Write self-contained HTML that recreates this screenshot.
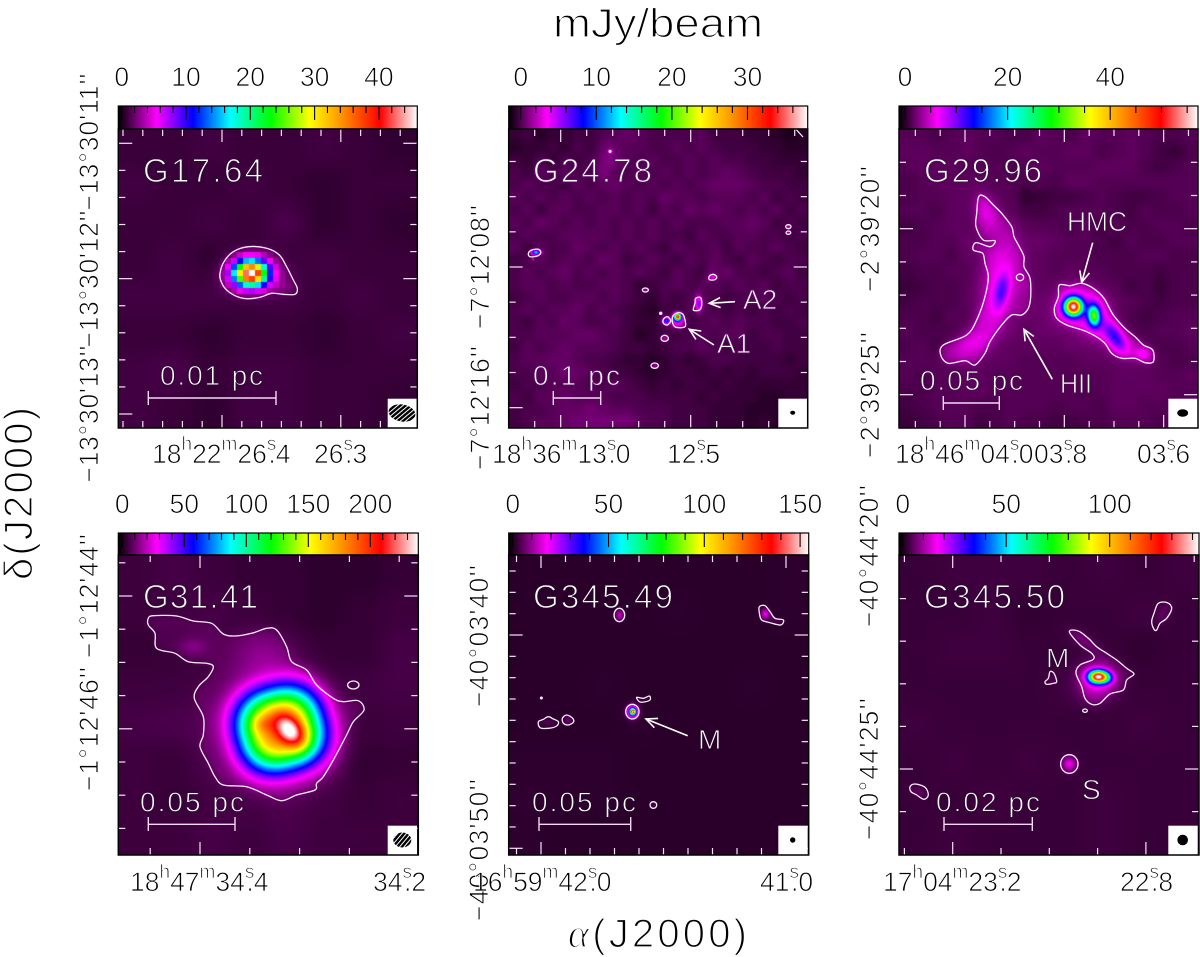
<!DOCTYPE html>
<html lang="en">
<head>
<meta charset="utf-8">
<title>Continuum maps</title>
<style>
html,body{margin:0;padding:0;background:#fff}
#root{position:relative;width:1200px;height:957px;overflow:hidden;background:#fff}
canvas{position:absolute;display:block}
svg#overlay{position:absolute;left:0;top:0}
text{font-family:"Liberation Sans",sans-serif}
.ax{fill:#000;stroke:#fff;stroke-width:.8px;font-size:26.5px}
.sup{font-size:19px}
.lab{fill:#fff;font-size:33px;stroke-width:1.1px}
.ann{fill:#fff;font-size:28px;stroke-width:.9px}
.dark1{stroke:#2c0832}.dark2{stroke:#5a0c62}.dark3{stroke:#470b4d}.dark4{stroke:#35083c}.dark5{stroke:#25062a}.dark6{stroke:#2e0734}
.bar{stroke:#f3d9f3;stroke-width:1.4;fill:none}
.arrow{stroke:#fff;stroke-width:1.6;fill:none;marker-end:url(#arrowhead)}
</style>
</head>
<body>
<div id="root">
<svg id="overlay" width="1200" height="957" viewBox="0 0 1200 957" xmlns="http://www.w3.org/2000/svg">
<defs>
<marker id="arrowhead" markerUnits="userSpaceOnUse" markerWidth="14" markerHeight="12" refX="12" refY="6" orient="auto"><path d="M1 1 L12 6 L1 11" fill="none" stroke="#fff" stroke-width="1.6"/></marker>
<pattern id="hatch" patternUnits="userSpaceOnUse" width="3.4" height="3.4" patternTransform="rotate(40)"><rect width="3.4" height="3.4" fill="#000"/><rect width="1" height="3.4" fill="#fff"/></pattern>
</defs>
<g id="colorbars"></g>
<g id="marks"></g>

<text x="553" y="37" class="ax" style="font-size:41px;stroke-width:1.3px" textLength="210" lengthAdjust="spacingAndGlyphs">mJy/beam</text>
<text x="568" y="947" class="ax" style="font-size:40px;stroke-width:1.3px" textLength="179"><tspan font-family="Liberation Serif" font-style="italic">α</tspan>(J2000)</text>
<text transform="translate(32,580) rotate(-90)" class="ax" style="font-size:40px;stroke-width:1.3px" textLength="173">δ(J2000)</text>

<!-- declination labels -->
<g>
<text transform="translate(98,142) rotate(-90)" text-anchor="middle" class="ax" textLength="137">−13°30'11''</text>
<text transform="translate(98,279) rotate(-90)" text-anchor="middle" class="ax" textLength="137">−13°30'12''</text>
<text transform="translate(98,414) rotate(-90)" text-anchor="middle" class="ax" textLength="137">−13°30'13''</text>
<text transform="translate(489,267) rotate(-90)" text-anchor="middle" class="ax" textLength="124">−7°12'08''</text>
<text transform="translate(489,408) rotate(-90)" text-anchor="middle" class="ax" textLength="124">−7°12'16''</text>
<text transform="translate(879,229) rotate(-90)" text-anchor="middle" class="ax" textLength="126">−2°39'20''</text>
<text transform="translate(879,395) rotate(-90)" text-anchor="middle" class="ax" textLength="126">−2°39'25''</text>
<text transform="translate(98,596) rotate(-90)" text-anchor="middle" class="ax" textLength="124">−1°12'44''</text>
<text transform="translate(98,729) rotate(-90)" text-anchor="middle" class="ax" textLength="124">−1°12'46''</text>
<text transform="translate(488,636) rotate(-90)" text-anchor="middle" class="ax" textLength="142">−40°03'40''</text>
<text transform="translate(488,850) rotate(-90)" text-anchor="middle" class="ax" textLength="142">−40°03'50''</text>
<text transform="translate(878,556) rotate(-90)" text-anchor="middle" class="ax" textLength="142">−40°44'20''</text>
<text transform="translate(878,769) rotate(-90)" text-anchor="middle" class="ax" textLength="142">−40°44'25''</text>
</g>

<!-- right ascension labels -->
<g>
<text x="152" y="463" class="ax">18<tspan class="sup" dy="-13">h</tspan><tspan dy="13">22</tspan><tspan class="sup" dy="-13">m</tspan><tspan dy="13">26</tspan><tspan class="sup" dy="-13">s</tspan><tspan dy="13" dx="-8">.4</tspan></text>
<text x="314" y="463" class="ax">26<tspan class="sup" dy="-13">s</tspan><tspan dy="13" dx="-8">.3</tspan></text>
<text x="492" y="463" class="ax">18<tspan class="sup" dy="-13">h</tspan><tspan dy="13">36</tspan><tspan class="sup" dy="-13">m</tspan><tspan dy="13">13</tspan><tspan class="sup" dy="-13">s</tspan><tspan dy="13" dx="-8">.0</tspan></text>
<text x="667" y="463" class="ax">12<tspan class="sup" dy="-13">s</tspan><tspan dy="13" dx="-8">.5</tspan></text>
<text x="895" y="463" class="ax">18<tspan class="sup" dy="-13">h</tspan><tspan dy="13">46</tspan><tspan class="sup" dy="-13">m</tspan><tspan dy="13">04</tspan><tspan class="sup" dy="-13">s</tspan><tspan dy="13" dx="-8">.0</tspan></text>
<text x="1034" y="463" class="ax">03<tspan class="sup" dy="-13">s</tspan><tspan dy="13" dx="-8">.8</tspan></text>
<text x="1137" y="463" class="ax">03<tspan class="sup" dy="-13">s</tspan><tspan dy="13" dx="-8">.6</tspan></text>
<text x="130" y="891" class="ax">18<tspan class="sup" dy="-13">h</tspan><tspan dy="13">47</tspan><tspan class="sup" dy="-13">m</tspan><tspan dy="13">34</tspan><tspan class="sup" dy="-13">s</tspan><tspan dy="13" dx="-8">.4</tspan></text>
<text x="373" y="891" class="ax">34<tspan class="sup" dy="-13">s</tspan><tspan dy="13" dx="-8">.2</tspan></text>
<text x="473" y="891" class="ax">16<tspan class="sup" dy="-13">h</tspan><tspan dy="13">59</tspan><tspan class="sup" dy="-13">m</tspan><tspan dy="13">42</tspan><tspan class="sup" dy="-13">s</tspan><tspan dy="13" dx="-8">.0</tspan></text>
<text x="760" y="891" class="ax">41<tspan class="sup" dy="-13">s</tspan><tspan dy="13" dx="-8">.0</tspan></text>
<text x="883" y="891" class="ax">17<tspan class="sup" dy="-13">h</tspan><tspan dy="13">04</tspan><tspan class="sup" dy="-13">m</tspan><tspan dy="13">23</tspan><tspan class="sup" dy="-13">s</tspan><tspan dy="13" dx="-8">.2</tspan></text>
<text x="1120" y="891" class="ax">22<tspan class="sup" dy="-13">s</tspan><tspan dy="13" dx="-8">.8</tspan></text>
</g>

<!-- panel names -->
<g>
<text x="143" y="182" class="ax lab dark1" textLength="120">G17.64</text>
<text x="533" y="182" class="ax lab dark2" textLength="119">G24.78</text>
<text x="924" y="182" class="ax lab dark3" textLength="118">G29.96</text>
<text x="143" y="608" class="ax lab dark4" textLength="115">G31.41</text>
<text x="533" y="608" class="ax lab dark5" textLength="140">G345.49</text>
<text x="924" y="608" class="ax lab dark6" textLength="141">G345.50</text>
</g>

<!-- scale bars -->
<g>
<g><path class="bar" d="M148.3 391V405M148.3 398H276M276 391V405"/><text x="160" y="385" class="ax ann dark1" textLength="103">0.01 pc</text></g>
<g><path class="bar" d="M553.3 391V405M553.3 398H600.7M600.7 391V405"/><text x="533" y="385" class="ax ann dark2" textLength="87">0.1 pc</text></g>
<g><path class="bar" d="M943.3 396V410M943.3 403H999.3M999.3 396V410"/><text x="920" y="390" class="ax ann dark3" textLength="103">0.05 pc</text></g>
<g><path class="bar" d="M148.3 817V831M148.3 824.3H235M235 817V831"/><text x="140" y="811.7" class="ax ann dark4" textLength="104">0.05 pc</text></g>
<g><path class="bar" d="M539 817V831M539 824.3H630.7M630.7 817V831"/><text x="532" y="811.7" class="ax ann dark5" textLength="104">0.05 pc</text></g>
<g><path class="bar" d="M944 817V831M944 824.3H1032.3M1032.3 817V831"/><text x="936" y="811.7" class="ax ann dark6" textLength="104">0.02 pc</text></g>
</g>

<!-- annotations -->
<g>
<line class="arrow" x1="735" y1="301.7" x2="709.3" y2="303.3"/>
<text x="743" y="309" class="ax ann dark2">A2</text>
<line class="arrow" x1="714" y1="345" x2="689.3" y2="329.3"/>
<text x="717" y="353" class="ax ann dark2">A1</text>
<line class="arrow" x1="1092.7" y1="242.7" x2="1081.7" y2="282.3"/>
<text x="1067" y="231" class="ax ann dark3" textLength="60" lengthAdjust="spacingAndGlyphs">HMC</text>
<line class="arrow" x1="1052.3" y1="379.3" x2="1024" y2="329.3"/>
<text x="1060" y="393" class="ax ann dark3" textLength="32" lengthAdjust="spacingAndGlyphs">HII</text>
<line class="arrow" x1="687.7" y1="735.7" x2="646" y2="719"/>
<text x="698" y="749" class="ax ann dark5">M</text>
<text x="1046" y="667.7" class="ax ann dark6">M</text>
<text x="1082" y="799" class="ax ann dark6">S</text>
<line x1="795.7" y1="129" x2="803" y2="137" stroke="#fff" stroke-width="1.2"/>
</g>

<!-- beams -->
<g>
<g><rect x="387.7" y="398.7" width="29.3" height="29" fill="#fff"/><ellipse cx="402" cy="413" rx="13.5" ry="8.5" transform="rotate(10 402 413)" fill="url(#hatch)"/></g>
<g><rect x="778.3" y="398.7" width="29.4" height="29" fill="#fff"/><ellipse cx="792.7" cy="412.7" rx="2.5" ry="2" fill="#000"/></g>
<g><rect x="1168.3" y="398.7" width="29.4" height="29" fill="#fff"/><ellipse cx="1182.7" cy="413" rx="5.5" ry="3.7" fill="#000"/></g>
<g><rect x="387.7" y="825.7" width="29.3" height="29.3" fill="#fff"/><ellipse cx="402.3" cy="840" rx="9" ry="7.5" fill="url(#hatch)"/></g>
<g><rect x="778.3" y="825.7" width="29.4" height="29.3" fill="#fff"/><circle cx="792.7" cy="840" r="2.7" fill="#000"/></g>
<g><rect x="1168.3" y="825.7" width="29.4" height="29.3" fill="#fff"/><circle cx="1182.7" cy="840" r="5.3" fill="#000"/></g>
</g>

<g id="frames"></g>
</svg>
</div>

<script>
// ---------- colour scale ----------
const cmapStops = [0, 0.128, 0.25, 0.374, 0.51, 0.64, 0.74, 0.876, 1];
const cmapColors = ['#000000','#ff00ff','#0000ff','#00ffff','#00ff00','#ffff00','#ff9900','#ff0000','#ffffff'];

// ---------- G17.64 ----------
// blobs: [x, y, sigmaX, sigmaY, angleDeg, amplitude mJy/beam, optional profile exponent, optional squareness]; map units = 1/3 px
const g1764Blobs = [[757,675,33,25,0,43],[770,680,60,40,0,2],[850,715,25,12,0,.6]];
const g1764Contours = [
  {amp:0.6,pts:[[660,670],[672,635],[700,605],[745,590],[800,595],[838,615],[860,650],[880,690],[892,715],[885,733],[850,733],[815,730],[780,742],[740,746],[705,737],[675,715],[662,690]]}
];
const g1764Rings = [];
const g1764Background = ['44544543','54454344','44546343','45344544','55545454','44344345','56455444','54355443'];
const g1764CbarLabels = ['0','10','20','30','40'];
const g1764CbarValues = [0,10,20,30,40];

// ---------- G24.78 ----------
const g2478Blobs = [[317,607,9,5,0,13],[742,800,7,7,0,34],[742,815,14,12,0,4],[708,812,7,6,0,10],[805,762,7,14,0,6],[848,681,8,5,0,3],[646,720,7,4,0,2],[704,865,7,6,0,2.2],[674,947,7,5,0,2.2],[1075,530,5,4,0,2],[1075,548,5,4,0,2],[540,304,4,4,0,5],[692,790,3,3,0,5],[308,628,3,3,0,3],[530,320,14,40,0,.5],[580,1110,40,16,0,.6],[820,700,10,50,30,.5]];
const g2478Contours = [
  {amp:0,pts:[[295,610],[305,600],[325,598],[332,608],[322,618],[300,620]]},
  {amp:0,pts:[[838,678],[850,673],[860,680],[855,689],[838,689]]},
  {amp:0,pts:[[797,745],[812,743],[815,765],[808,780],[790,780],[795,760]]},
  {amp:0,pts:[[728,800],[742,788],[758,792],[765,810],[765,830],[738,832],[728,820]]},
  {amp:0,pts:[[700,808],[712,800],[722,812],[712,825],[700,820]]}
];
const g2478Rings = [[646,720,9,6],[704,865,11,9],[674,947,11,8],[1075,530,8,6],[1075,548,7,5],[540,304,2.5,2.5],[692,790,3,3]];
const g2478Background = ['342334456765555644433212','233435467665565654443322','435354578656556565544333','546565586565656567654443','565546567656565677765544','656565656565766566656454','564665566564657676565645','657656565656565556676454','565566665656554655665545','646557656565465564655654','456566576456546565465455','565675656565465467554564','566565566534565465656455','456556656543545654566545','565667565432445654545454','546576556433554565655445','556667765423445656645544','465676665443455654544544','566776554332343455444434','556687654432344343434443','455666556543434434333333','546676665554444343332233','455677876655544433322232','456678886655544433323233'];
const g2478CbarLabels = ['0','10','20','30'];
const g2478CbarValues = [0,10,20,30];

// ---------- G29.96 ----------
const g2996Blobs = [[760,770,17,17,0,50],[822,797,12,21,-5,25],[885,860,15,34,-35,7],[770,770,42,38,0,4],[830,810,40,45,0,2.5],[545,725,14,35,12,5.5],[540,680,38,85,12,3],[450,885,55,26,-28,2.5],[500,490,22,40,-20,2.5],[510,800,35,65,30,1.2],[970,912,16,14,0,3],[900,880,50,26,35,1.5]];
const g2996Contours = [
  {amp:1.4,pts:[[476,440],[495,440],[520,465],[545,490],[575,530],[582,560],[598,590],[612,620],[612,650],[630,685],[632,740],[625,775],[605,795],[575,795],[545,825],[510,875],[495,910],[465,945],[435,932],[385,940],[362,915],[370,885],[440,855],[470,810],[495,740],[505,680],[495,640],[488,610],[460,600],[468,578],[510,590],[525,572],[490,570],[468,530],[470,490]]},
  {amp:2,pts:[[718,705],[750,707],[785,700],[820,715],[852,745],[880,795],[915,835],[945,860],[970,885],[998,900],[1000,935],[975,938],[945,925],[905,925],[875,910],[850,875],[800,845],[740,825],[710,805],[703,775],[715,740]]}
];
const g2996Rings = [[600,682,11,10]];
const g2996Background = ['55456554465465565445','66556545655664565324','56665554565556664345','45666655454665555555','45566665123345433455','55466665334555435445','34566666555463544554','44557666676554354455','45546676665554445544','34455666665655444344','23445666766655534244','34445566676666554344','44354666777665443455','54445567677666544556','45345666666766655445','55446666555566665544','54556655555555666556','44556655555545666655','34555445554554665555','23455345443344555465'];
const g2996CbarLabels = ['0','20','40'];
const g2996CbarValues = [0,20,40];

// ---------- G31.41 ----------
const g3141Blobs = [[692,722,26,40,-40,68],[664,716,88,84,-15,168,1.4,2.4],[608,703,24,18,0,14],[640,750,150,120,0,5],[400,470,30,18,0,6],[620,500,60,50,0,6]];
const g3141Contours = [
  {amp:3,pts:[[265,385],[280,377],[350,378],[400,393],[455,400],[490,432],[525,438],[575,430],[620,415],[650,420],[680,470],[695,515],[740,540],[770,585],[820,625],[850,635],[895,632],[912,660],[880,695],[860,735],[820,810],[790,860],[770,880],[765,900],[710,915],[665,932],[620,915],[560,890],[490,885],[465,860],[445,820],[420,770],[430,735],[430,680],[403,625],[415,590],[445,560],[460,530],[440,520],[385,515],[345,490],[290,475],[285,430],[265,405]]}
];
const g3141Rings = [[880,585,17,12]];
const g3141Background = ['45433223','44543234','33454335','44465345','55566434','43455523','43445434','44545444'];
const g3141CbarLabels = ['0','50','100','150','200'];
const g3141CbarValues = [0,50,100,150,200];

// ---------- G345.49 ----------
const g34549Blobs = [[577,665,5,6,0,120],[577,665,11,12,0,38],[538,375,9,11,0,11],[975,372,9,11,0,15],[1005,392,14,6,20,3],[322,698,18,8,0,3],[383,690,9,8,0,5],[610,627,10,5,0,1.5],[640,945,6,6,0,2.5],[304,624,3,3,0,6]];
const g34549Contours = [
  {amp:0,pts:[[958,350],[975,347],[990,365],[1005,385],[1030,390],[1022,405],[990,398],[965,390],[958,370]]},
  {amp:0,pts:[[590,622],[610,625],[628,618],[630,630],[612,636],[598,635]]},
  {amp:0,pts:[[295,695],[310,688],[325,680],[340,687],[355,695],[350,708],[325,715],[300,713]]},
  {amp:0,pts:[[367,685],[380,675],[398,685],[400,697],[385,705],[370,700]]}
];
const g34549Rings = [[538,375,16,20],[577,665,20,22],[640,945,10,10],[304,624,2.5,2.5]];
const g34549Background = ['44444445','44445445','44444444','44544454','44454444','55544444','65544444','54444444'];
const g34549CbarLabels = ['0','50','100','150'];
const g34549CbarValues = [0,50,100,150];

// ---------- G345.50 ----------
const g34550Blobs = [[802,560,17,12,0,118],[826,563,15,12,0,40],[803,565,36,32,0,12],[718,822,14,15,0,13],[790,605,40,30,0,2.5],[760,450,35,14,30,2.5],[1000,370,14,25,25,2.5],[265,905,17,11,25,2.5],[665,565,10,10,0,1.5]];
const g34550Contours = [
  {amp:2,pts:[[718,425],[745,423],[775,445],[800,470],[830,490],[860,510],[890,535],[912,552],[890,570],[880,600],[840,612],[810,640],[785,643],[765,625],[755,590],[738,550],[750,525],[790,508],[785,490],[750,465]]},
  {amp:0,pts:[[660,545],[672,550],[680,575],[670,580],[650,583],[645,575],[655,565]]},
  {amp:0,pts:[[985,340],[1012,338],[1025,355],[1010,385],[990,400],[980,420],[972,418],[965,395],[972,370]]},
  {amp:0,pts:[[240,890],[255,882],[285,892],[295,915],[282,928],[260,915],[243,905]]}
];
const g34550Rings = [[765,662,7,5],[718,822,26,28]];
const g34550Background = ['45554545','44534454','45544434','44445544','54444454','45454444','44544544','45444544'];
const g34550CbarLabels = ['0','50','100'];
const g34550CbarValues = [0,50,100];

// ---------- panel configuration ----------
const MAP_UNITS_PER_PX = 3;
const panels = [
 {id:'g1764',left:118.3,top:129,size:299,cbTop:106,labY:86,x0:355,y0:237,pxAt0:121.7,pxPerUnit:6.43,minor:2,bgLow:0,bgStep:.2,cell:6,blobs:g1764Blobs,contours:g1764Contours,rings:g1764Rings,bg:g1764Background,cbVals:g1764CbarValues,cbLabs:g1764CbarLabels,
  xt:[222,19.8,6],yt:[143.3,27.07,5]},
 {id:'g2478',left:508.7,top:129,size:299,cbTop:106,labY:86,x0:236,y0:237,pxAt0:520.7,pxPerUnit:7.56,minor:2,bgLow:-1.25,bgStep:.236,cell:0,blobs:g2478Blobs,contours:g2478Contours,rings:g2478Rings,bg:g2478Background,cbVals:g2478CbarValues,cbLabs:g2478CbarLabels,
  xt:[560.7,26,5],yt:[267,35.17,4]},
 {id:'g2996',left:899,top:129,size:299,cbTop:106,labY:86,x0:237,y0:237,pxAt0:905,pxPerUnit:5.13,minor:5,bgLow:0,bgStep:.26,cell:0,blobs:g2996Blobs,contours:g2996Contours,rings:g2996Rings,bg:g2996Background,cbVals:g2996CbarValues,cbLabs:g2996CbarLabels,
  xt:[965,24.83,4],yt:[228.7,33.2,5]},
 {id:'g3141',left:118.3,top:555,size:300,cbTop:533,labY:513,x0:175,y0:195,pxAt0:122.3,pxPerUnit:1.24,minor:10,bgLow:.2,bgStep:1,cell:0,blobs:g3141Blobs,contours:g3141Contours,rings:g3141Rings,bg:g3141Background,cbVals:g3141CbarValues,cbLabs:g3141CbarLabels,
  xt:[200,49.8,5],yt:[596,33.2,4]},
 {id:'g34549',left:508.7,top:555,size:300,cbTop:533,labY:513,x0:206,y0:195,pxAt0:512.7,pxPerUnit:1.916,minor:10,bgLow:.2,bgStep:.25,cell:0,blobs:g34549Blobs,contours:g34549Contours,rings:g34549Rings,bg:g34549Background,cbVals:g34549CbarValues,cbLabs:g34549CbarLabels,
  xt:[541,24.5,10],yt:[635,21.33,10]},
 {id:'g34550',left:899,top:555,size:300,cbTop:533,labY:513,x0:207,y0:195,pxAt0:902.7,pxPerUnit:2.07,minor:10,bgLow:.5,bgStep:.45,cell:0,blobs:g34550Blobs,contours:g34550Contours,rings:g34550Rings,bg:g34550Background,cbVals:g34550CbarValues,cbLabs:g34550CbarLabels,
  xt:[952.7,48.3,4],yt:[769,42.6,5]}
];

const NS = 'http://www.w3.org/2000/svg';
const root = document.getElementById('root');
const overlay = document.getElementById('overlay');
const marksG = document.getElementById('marks');
const barsG = document.getElementById('colorbars');
const framesG = document.getElementById('frames');

function svgEl(tag, attrs, parent){
  const e = document.createElementNS(NS, tag);
  for (const k in attrs) e.setAttribute(k, attrs[k]);
  parent.appendChild(e);
  return e;
}
function hexRgb(h){return [parseInt(h.slice(1,3),16),parseInt(h.slice(3,5),16),parseInt(h.slice(5,7),16)];}
const cmapRgb = cmapColors.map(hexRgb);
function colormap(f){
  if (f<=0) return cmapRgb[0];
  if (f>=1) return cmapRgb[cmapRgb.length-1];
  let i=0; while (i<cmapStops.length-2 && f>cmapStops[i+1]) i++;
  const t=(f-cmapStops[i])/(cmapStops[i+1]-cmapStops[i]);
  const a=cmapRgb[i], b=cmapRgb[i+1];
  return [a[0]+(b[0]-a[0])*t,a[1]+(b[1]-a[1])*t,a[2]+(b[2]-a[2])*t];
}
function smooth(t){return t*t*(3-2*t);}
function catmull(pts){
  const n=pts.length; let d='M'+pts[0][0].toFixed(1)+' '+pts[0][1].toFixed(1);
  for(let i=0;i<n;i++){
    const p0=pts[(i-1+n)%n],p1=pts[i],p2=pts[(i+1)%n],p3=pts[(i+2)%n];
    const c1x=p1[0]+(p2[0]-p0[0])/6,c1y=p1[1]+(p2[1]-p0[1])/6,c2x=p2[0]-(p3[0]-p1[0])/6,c2y=p2[1]-(p3[1]-p1[1])/6;
    d+='C'+c1x.toFixed(1)+' '+c1y.toFixed(1)+' '+c2x.toFixed(1)+' '+c2y.toFixed(1)+' '+p2[0].toFixed(1)+' '+p2[1].toFixed(1);
  }
  return d+'Z';
}

// gradient for the colour bars
const defs = overlay.querySelector('defs');
const grad = svgEl('linearGradient',{id:'cbarGrad',x1:'0',x2:'1',y1:'0',y2:'0'},defs);
cmapStops.forEach(function(s,i){ svgEl('stop',{offset:s,'stop-color':cmapColors[i]},grad); });

panels.forEach(function(p){
  const xMap = function(v){return p.left+(v-p.x0)/MAP_UNITS_PER_PX;};
  const yMap = function(v){return p.top+(v-p.y0)/MAP_UNITS_PER_PX;};
  const vmin = (p.left-p.pxAt0)/p.pxPerUnit;
  const vmax = (p.left+p.size-p.pxAt0)/p.pxPerUnit;
  const cbX = function(v){return p.pxAt0+v*p.pxPerUnit;};

  // plateau layers from contour polygons
  const S = p.size;
  const plateaus = [];
  p.contours.forEach(function(c){
    if(!c.amp) return;
    const oc=document.createElement('canvas'); oc.width=S; oc.height=S;
    const cx=oc.getContext('2d');
    cx.filter='blur(3px)';
    cx.fillStyle='#fff';
    cx.fill(new Path2D(catmull(c.pts.map(function(q){return [(q[0]-p.x0)/MAP_UNITS_PER_PX,(q[1]-p.y0)/MAP_UNITS_PER_PX];}))));
    plateaus.push({amp:c.amp,d:cx.getImageData(0,0,S,S).data});
  });

  // background grid
  const rows=p.bg.length, cols=p.bg[0].length;
  function bgVal(ux,uy){
    const gx=Math.min(cols-1.001,Math.max(0,ux*cols-.5)), gy=Math.min(rows-1.001,Math.max(0,uy*rows-.5));
    const ix=Math.floor(gx), iy=Math.floor(gy), tx=smooth(gx-ix), ty=smooth(gy-iy);
    const a=+p.bg[iy][ix], b=+p.bg[iy][ix+1], c=+p.bg[iy+1][ix], d=+p.bg[iy+1][ix+1];
    return p.bgLow+p.bgStep*((a*(1-tx)+b*tx)*(1-ty)+(c*(1-tx)+d*tx)*ty);
  }

  // map raster
  const cv=document.createElement('canvas'); cv.width=S; cv.height=S;
  cv.style.left=p.left+'px'; cv.style.top=p.top+'px';
  cv.style.width=S+'px'; cv.style.height=S+'px';
  
  
  root.insertBefore(cv,overlay);
  const ctx=cv.getContext('2d');
  const img=ctx.createImageData(S,S);
  const rots=p.blobs.map(function(b){const r=b[4]*Math.PI/180;return [Math.cos(r),Math.sin(r)];});
  for(let j=0;j<S;j++){
    for(let i=0;i<S;i++){
      let si=i, sj=j;
      if(p.cell){ si=Math.floor((i+1)/p.cell)*p.cell+p.cell/2; sj=Math.floor((j+3)/p.cell)*p.cell+p.cell/2-2; }
      const mx=p.x0+(si+.5)*MAP_UNITS_PER_PX, my=p.y0+(sj+.5)*MAP_UNITS_PER_PX;
      let v=bgVal((i+.5)/S,(j+.5)/S);
      for(let k=0;k<p.blobs.length;k++){
        const b=p.blobs[k], dx=mx-b[0], dy=my-b[1];
        const a=(dx*rots[k][0]+dy*rots[k][1])/b[2], c=(-dx*rots[k][1]+dy*rots[k][0])/b[3];
        const m=b[7]||2;
        const q=.5*Math.pow(Math.pow(Math.abs(a),m)+Math.pow(Math.abs(c),m),2/m);
        v+=b[5]*Math.exp(-(b[6]?Math.pow(q,b[6]):q));
      }
      for(let k=0;k<plateaus.length;k++) v+=plateaus[k].amp*plateaus[k].d[(j*S+i)*4+3]/255;
      const col=colormap((v-vmin)/(vmax-vmin));
      const o=(j*S+i)*4;
      img.data[o]=col[0]; img.data[o+1]=col[1]; img.data[o+2]=col[2]; img.data[o+3]=255;
    }
  }
  ctx.putImageData(img,0,0);

  // contours
  p.contours.forEach(function(c){
    const path=svgEl('path',{d:catmull(c.pts.map(function(q){return [xMap(q[0]),yMap(q[1])];})),fill:'none',stroke:'#fdf0fd','stroke-width':1.3},marksG);
    
    
  });
  p.rings.forEach(function(r){
    const el=svgEl('ellipse',{cx:xMap(r[0]),cy:yMap(r[1]),rx:r[2]/MAP_UNITS_PER_PX,ry:r[3]/MAP_UNITS_PER_PX,fill:r[2]<4?'#fff':'none',stroke:'#fdf0fd','stroke-width':1.3},marksG);
    
    
  });

  // map ticks
  const R=p.left+S, B=p.top+S;
  const drawTick=function(x1,y1,x2,y2){
    const l=svgEl('line',{x1:x1,y1:y1,x2:x2,y2:y2,stroke:'#f6e6f6','stroke-width':1.2},marksG);
    
    
  };
  const xm=p.xt[0], xs=p.xt[1], xe=p.xt[2];
  for(let k=-40;k<=40;k++){
    const x=xm+k*xs;
    if(x<=p.left+1||x>=R-1) continue;
    const len=(((k%xe)+xe)%xe===0)?13:7;
    drawTick(x,p.top,x,p.top+len);
    drawTick(x,B,x,B-len);
  }
  const ym=p.yt[0], ys=p.yt[1], ye=p.yt[2];
  for(let k=-40;k<=40;k++){
    const y=ym+k*ys;
    if(y<=p.top+1||y>=B-1) continue;
    const len=(((k%ye)+ye)%ye===0)?14:7;
    drawTick(p.left,y,p.left+len,y);
    drawTick(R,y,R-len,y);
  }

  // colour bar
  const bar=svgEl('rect',{x:p.left,y:p.cbTop,width:S,height:p.top-p.cbTop,fill:'url(#cbarGrad)',stroke:'#000','stroke-width':1.2},barsG);
  
  
  const first=Math.ceil(vmin/p.minor)*p.minor;
  for(let v=first;v<=vmax;v+=p.minor){
    const major=p.cbVals.indexOf(v)>=0 || (Math.abs(v)%(p.cbVals[1]-p.cbVals[0])===0);
    const t=svgEl('line',{x1:cbX(v),x2:cbX(v),y1:p.cbTop,y2:p.cbTop+(major?14:7),stroke:'#000','stroke-width':1.1},barsG);
    
    
  }
  p.cbVals.forEach(function(v,i){
    const t=svgEl('text',{x:cbX(v),y:p.labY,'text-anchor':'middle','class':'ax'},barsG);
    t.textContent=p.cbLabs[i];
    
    
  });

  // frame
  const fr=svgEl('rect',{x:p.left,y:p.top,width:S,height:S,fill:'none',stroke:'#000','stroke-width':1.5},framesG);
  
  
});
</script>
</body>
</html>
